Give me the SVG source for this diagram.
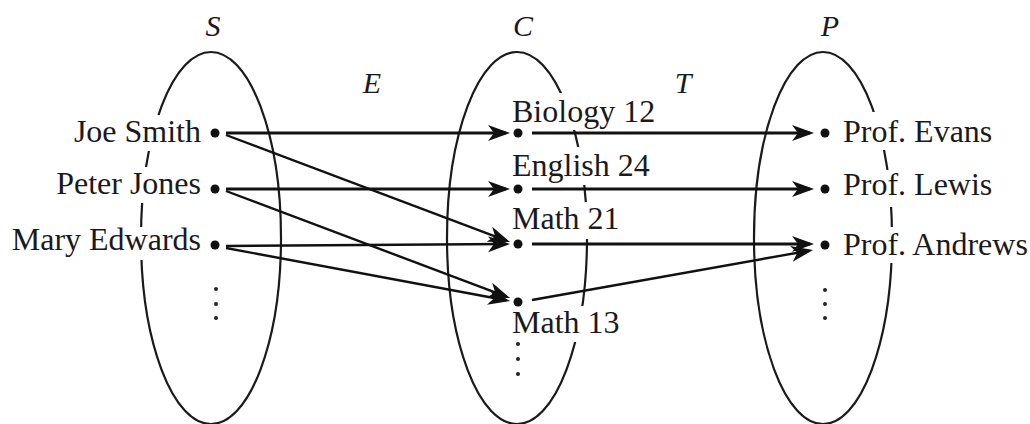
<svg xmlns="http://www.w3.org/2000/svg" width="1030" height="424" viewBox="0 0 1030 424">
<style>
.set{fill:none;stroke:#1a1a1a;stroke-width:2.2}
.lbl{font-family:"Liberation Serif","Times New Roman",serif;font-size:32px;fill:#1a1a1a}
.ttl{font-family:"Liberation Serif","Times New Roman",serif;font-size:30px;font-style:italic;fill:#1a1a1a}
.bg{fill:#fff}
.dot{fill:#111}
.vd{fill:#222}
.h{fill:none;stroke:#111;stroke-width:3}
.d{fill:none;stroke:#111;stroke-width:2.4}
</style>
<defs>
<marker id="ah" markerUnits="userSpaceOnUse" markerWidth="24" markerHeight="18" refX="18" refY="8" orient="auto">
<path d="M0,0 L22,8 L0,16 L6,8 Z" fill="#111"/>
</marker>
</defs>
<rect width="1030" height="424" fill="#fff"/>
<g id="sets">
<ellipse class="set" cx="211" cy="238" rx="70" ry="186"/>
<ellipse class="set" cx="517" cy="238" rx="70" ry="186"/>
<ellipse class="set" cx="823" cy="238" rx="69" ry="186"/>
</g>
<g id="titles">
<text class="ttl" x="213" y="36" text-anchor="middle">S</text>
<text class="ttl" x="523" y="36" text-anchor="middle">C</text>
<text class="ttl" x="830" y="36" text-anchor="middle">P</text>
<text class="ttl" x="372" y="93" text-anchor="middle">E</text>
<text class="ttl" x="683" y="93" text-anchor="middle">T</text>
</g>
<g id="node-joe"><rect class="bg" x="69" y="115" width="134" height="36"/><text class="lbl" x="201" y="142" text-anchor="end">Joe Smith</text><circle class="dot" cx="215" cy="133" r="4.5"/></g>
<g id="node-peter"><rect class="bg" x="52" y="167" width="151" height="36"/><text class="lbl" x="201" y="194" text-anchor="end">Peter Jones</text><circle class="dot" cx="215" cy="189" r="4.5"/></g>
<g id="node-mary"><rect class="bg" x="8" y="227" width="195" height="33"/><text class="lbl" x="201" y="250" text-anchor="end">Mary Edwards</text><circle class="dot" cx="215" cy="245" r="4.5"/></g>
<g id="node-s-more"><circle class="vd" cx="216" cy="289" r="2"/><circle class="vd" cx="216" cy="304" r="2"/><circle class="vd" cx="216" cy="318" r="2"/></g>
<g id="node-bio"><rect class="bg" x="510" y="93" width="147" height="37"/><text class="lbl" x="512" y="122">Biology 12</text><circle class="dot" cx="518" cy="133" r="4.5"/></g>
<g id="node-eng"><rect class="bg" x="510" y="147" width="143" height="38"/><text class="lbl" x="512" y="176">English 24</text><circle class="dot" cx="518" cy="189" r="4.5"/></g>
<g id="node-m21"><rect class="bg" x="510" y="202" width="113" height="37"/><text class="lbl" x="512" y="229">Math 21</text><circle class="dot" cx="518" cy="244" r="4.5"/></g>
<g id="node-m13"><rect class="bg" x="510" y="306" width="113" height="36"/><text class="lbl" x="512" y="333">Math 13</text><circle class="dot" cx="518" cy="302" r="4.5"/></g>
<g id="node-c-more"><circle class="vd" cx="518" cy="344" r="2"/><circle class="vd" cx="518" cy="359" r="2"/><circle class="vd" cx="518" cy="374" r="2"/></g>
<g id="node-evans"><rect class="bg" x="841" y="112" width="153" height="38"/><text class="lbl" x="843" y="142">Prof. Evans</text><circle class="dot" cx="825" cy="133" r="4.5"/></g>
<g id="node-lewis"><rect class="bg" x="841" y="170" width="153" height="37"/><text class="lbl" x="843" y="195">Prof. Lewis</text><circle class="dot" cx="825" cy="189" r="4.5"/></g>
<g id="node-andrews"><rect class="bg" x="841" y="227" width="189" height="36"/><text class="lbl" x="843" y="255">Prof. Andrews</text><circle class="dot" cx="825" cy="245" r="4.5"/></g>
<g id="node-p-more"><circle class="vd" cx="825" cy="290" r="2"/><circle class="vd" cx="825" cy="304" r="2"/><circle class="vd" cx="825" cy="318" r="2"/></g>
<g id="connectors">
<path class="h" d="M226,133 L506,133" marker-end="url(#ah)"/>
<path class="d" d="M226,135 L506.3,240.6" marker-end="url(#ah)"/>
<path class="h" d="M226,189 L506,189" marker-end="url(#ah)"/>
<path class="d" d="M226,191 L506.3,296.6" marker-end="url(#ah)"/>
<path class="d" d="M226,246 L506,244" marker-end="url(#ah)"/>
<path class="d" d="M226,248 L506.1,300.3" marker-end="url(#ah)"/>
<path class="h" d="M532,133 L810,133" marker-end="url(#ah)"/>
<path class="h" d="M532,189 L810,189" marker-end="url(#ah)"/>
<path class="h" d="M532,244 L810,244" marker-end="url(#ah)"/>
<path class="d" d="M532,300 L809.1,250.7" marker-end="url(#ah)"/>
</g>
</svg>
